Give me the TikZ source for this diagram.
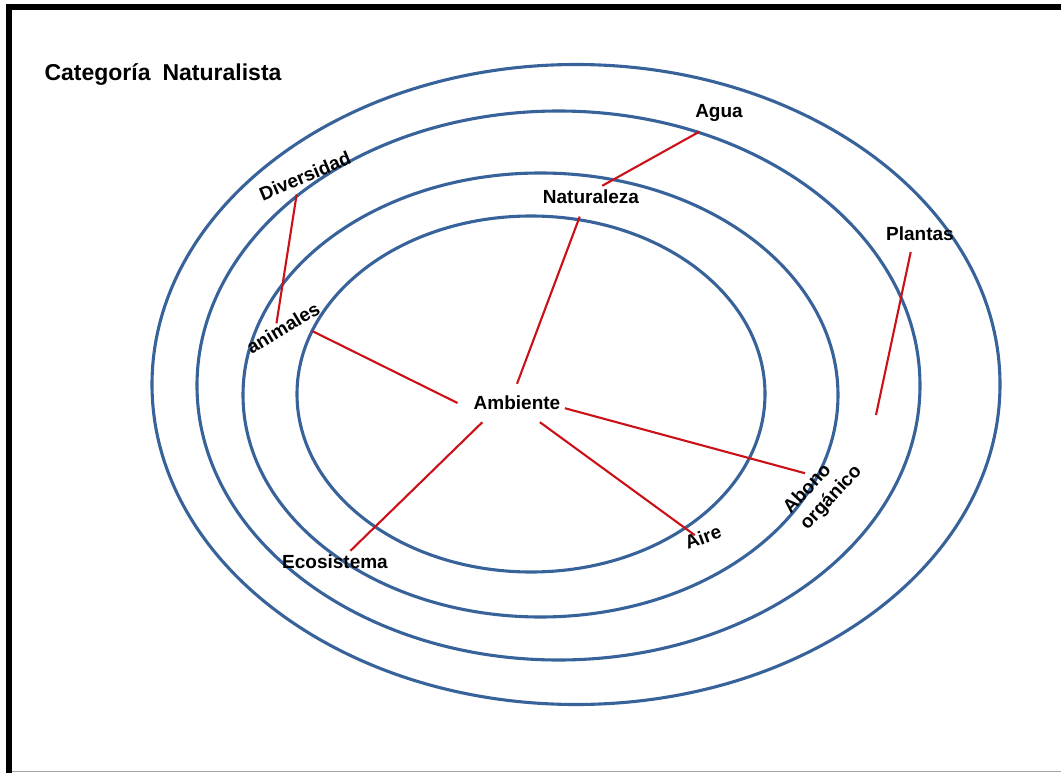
\documentclass[tikz,border=0pt]{standalone}
\usepackage{fontspec}
\setmainfont{Liberation Sans}
\usetikzlibrary{calc}

\definecolor{ringblue}{RGB}{56,98,154}
\definecolor{linkred}{RGB}{204,16,24}
\tikzset{
   ring/.style={draw=ringblue,line width=3.1pt},
   lbl/.style={font=\fontsize{19}{23}\selectfont\bfseries,inner sep=4pt},
   link/.style={draw=linkred,line width=2.1pt},
}

\begin{document}
\begin{tikzpicture}[x=1pt,y=-1pt]
      \useasboundingbox (0,0) rectangle (1061,773);
      % frame
      \draw[line width=6pt] (6,7) -- (1061,7);
      \draw[line width=6pt] (9,4) -- (9,773);
      \draw[black!35,line width=1.5pt] (12,771.5) -- (1061,771.5);

      \node[anchor=west,font=\fontsize{23}{27}\selectfont\bfseries] (title) at (41,75)
         {Categoría\hspace{12pt}Naturalista};

      % rings
      \draw[ring] (576,384.5) ellipse (424pt and 320pt);
      \draw[ring] (558.5,385.5) ellipse (361.5pt and 274.5pt);
      \draw[ring] (540.5,395) ellipse (297.5pt and 222pt);
      \draw[ring] (531,394) ellipse (234pt and 178pt);

      % labels
      \node[lbl] (agua) at (719,113) {Agua};
      \node[lbl] (nat) at (591,197) {Naturaleza};
      \node[lbl,rotate=23] (div) at (305,176) {Diversidad};
      \node[lbl,rotate=31] (ani) at (283,328) {animales};
      \node[lbl,inner xsep=16pt,inner ysep=12pt] (amb) at (517,403) {Ambiente};
      \node[lbl] (eco) at (335,562) {Ecosistema};
      \node[lbl,rotate=20] (aire) at (703,537) {Aire};
      \node[lbl,rotate=47,align=left] (abono) at (823,490) {Abono\\orgánico};
      \node[lbl] (plan) at (920,234) {Plantas};
      \coordinate (plan-end) at (876,415);

      % links
      \draw[link,shorten <=12pt] (agua.235) -- (nat.45);
      \draw[link,shorten <=9pt] (nat.234) -- (amb.north);
      \draw[link,shorten <=3pt,shorten >=-5pt] (div.220) -- (ani.north);
      \draw[link,shorten <=8pt] (ani.330) -- (amb.west);
      \draw[link] (amb.209) -- (eco.36);
      \draw[link,shorten >=-8pt] (amb.320) -- (aire.136);
      \draw[link,shorten <=-12pt] (amb.352) -- (abono.north);
      \draw[link,shorten <=7pt] (plan.235) -- (plan-end);
\end{tikzpicture}
\end{document}
